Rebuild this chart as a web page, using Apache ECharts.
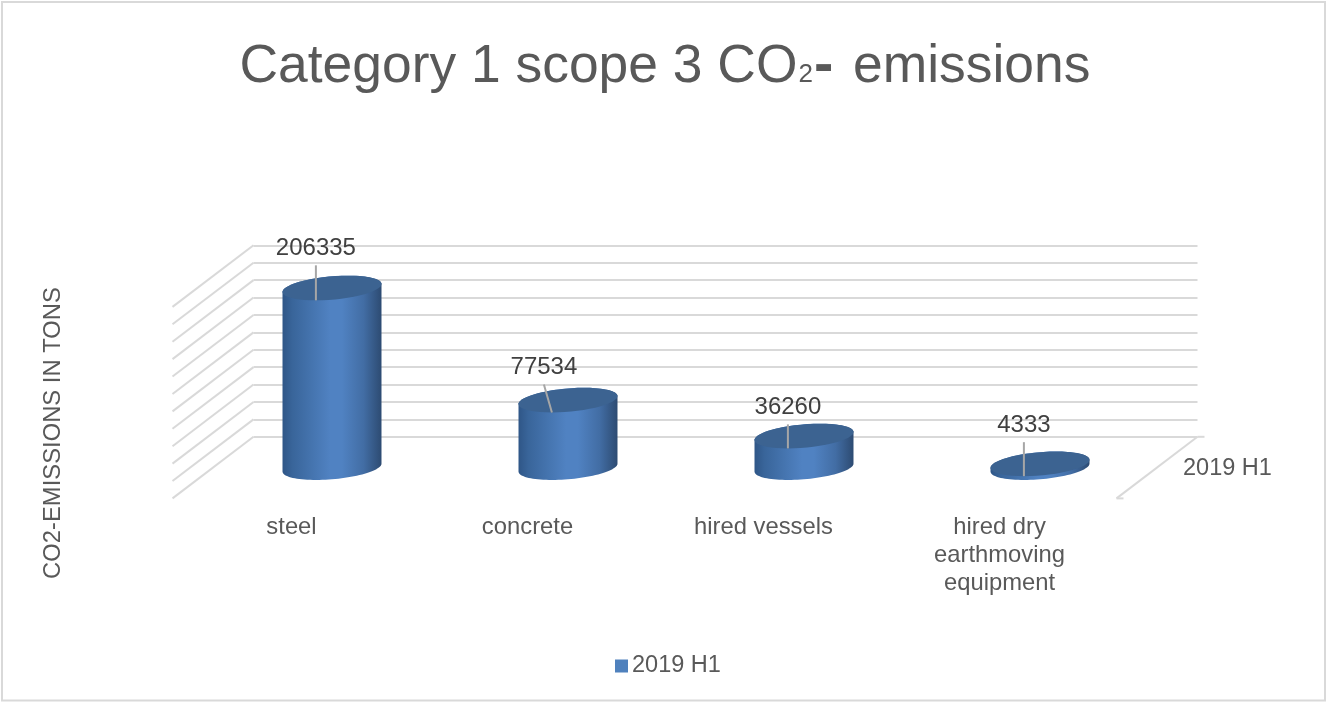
<!DOCTYPE html>
<html>
<head>
<meta charset="utf-8">
<style>
  html, body { margin: 0; padding: 0; background: #fff; }
  #main { width: 1326px; height: 702px; }
</style>
<script src="https://cdn.jsdelivr.net/npm/echarts@6/dist/echarts.min.js"></script>
</head>
<body>
<div id="main"></div>
<script>
var categories = ['steel', 'concrete', 'hired vessels', 'hired dry\nearthmoving\nequipment'];
var seriesName = '2019 H1';
var values = [206335, 77534, 36260, 4333];
var yTicks = [0, 20000, 40000, 60000, 80000, 100000, 120000, 140000, 160000, 180000, 200000, 220000];

var myChart = echarts.init(document.getElementById('main'), null, { renderer: 'canvas' });

var font = '"Liberation Sans", Arial, sans-serif';
var wallColor = '#d9d9d9';

// fake 3d: the floor depth vector, wall front edge is one full depth from the back wall
var depthX = -81;
var depthY = 61.6;
// cylinder sits half way in, ellipse is a sheared circle
var midX = -39.5;
var midY = 30.8;
var radA = 46.8;
var radP = 16.1;
var radQ = 12.35;
var startT = -Math.atan(radP / radA);

// hand placed data labels, like the moved labels in the original
var labelLift = [52, 45, 41, 51];
var labelShift = [0, -8, 0, 0];

function ellipsePoint(cx, cy, t) {
  return [cx + radA * Math.cos(t) - radP * Math.sin(t), cy + radQ * Math.sin(t)];
}

function arc(cx, cy, from, to) {
  var pts = [];
  for (var i = 0; i <= 48; i++) {
    pts.push(ellipsePoint(cx, cy, from + (to - from) * i / 48));
  }
  return pts;
}

function renderWall(params, api) {
  var sys = params.coordSys;
  var y = api.coord([0, api.value(0)])[1];
  var lineStyle = { stroke: wallColor, lineWidth: 2, fill: null };
  var children = [{
    type: 'line',
    shape: { x1: sys.x, y1: y, x2: sys.x + depthX, y2: y + depthY },
    style: lineStyle
  }];
  if (api.value(0) === 0) {
    var right = sys.x + sys.width;
    children.push({
      type: 'line',
      shape: { x1: right, y1: y, x2: right + depthX, y2: y + depthY },
      style: lineStyle
    });
    children.push({ type: 'line', shape: { x1: right, y1: y, x2: right + 7, y2: y }, style: lineStyle });
    children.push({
      type: 'line',
      shape: { x1: right + depthX, y1: y + depthY, x2: right + depthX + 7, y2: y + depthY },
      style: lineStyle
    });
  }
  return { type: 'group', children: children };
}

function renderCylinder(params, api) {
  var i = api.value(0);
  var base = api.coord([i, 0]);
  var top = api.coord([i, api.value(1)]);
  var cx = base[0] + midX;
  var yBase = base[1] + midY;
  var yTop = top[1] + midY;

  var body = arc(cx, yBase, startT, startT + Math.PI).concat(arc(cx, yTop, startT + Math.PI, startT + 2 * Math.PI));
  var r = Math.sqrt(radA * radA + radP * radP);
  var frontX = cx - radP;
  var frontY = yTop + radQ;
  var labelX = frontX + labelShift[i];
  var labelY = frontY - labelLift[i];

  return {
    type: 'group',
    children: [
      {
        type: 'polygon',
        shape: { points: body },
        style: {
          fill: new echarts.graphic.LinearGradient(cx - r, 0, cx + r, 0, [
            { offset: 0, color: '#2f5687' },
            { offset: 0.1, color: '#39659a' },
            { offset: 0.48, color: '#5082c2' },
            { offset: 0.6, color: '#5082c2' },
            { offset: 0.82, color: '#426da4' },
            { offset: 1, color: '#2d4b72' }
          ], true)
        }
      },
      {
        type: 'polygon',
        shape: { points: arc(cx, yTop, 0, Math.PI * 2) },
        style: { fill: '#3c6391' }
      },
      {
        type: 'line',
        shape: { x1: labelX, y1: labelY + 17, x2: frontX, y2: frontY },
        style: { stroke: '#a6a6a6', lineWidth: 2, fill: null }
      },
      {
        type: 'text',
        style: {
          x: labelX,
          y: labelY,
          text: String(api.value(1)),
          align: 'center',
          verticalAlign: 'middle',
          font: '24px ' + font,
          fill: '#404040'
        }
      }
    ]
  };
}

var option = {
  animation: false,
  backgroundColor: '#fff',
  title: {
    text: '{a|Category 1 scope 3 CO}{s|2}{d|-}{a| emissions}',
    left: 234.5,
    top: 33,
    textStyle: {
      fontWeight: 'normal',
      rich: {
        a: { fontFamily: font, fontSize: 53.4, fontWeight: 'normal', color: '#595959' },
        s: { fontFamily: font, fontSize: 26, fontWeight: 'normal', color: '#595959', verticalAlign: 'bottom', padding: [0, 1, 8, 1] },
        d: { fontFamily: font, fontSize: 58, fontWeight: 'bold', color: '#595959', padding: [0, 5, 0, 0] }
      }
    }
  },
  legend: {
    data: [seriesName],
    left: 610,
    top: 649,
    icon: 'rect',
    itemWidth: 13,
    itemHeight: 13,
    itemGap: 4,
    textStyle: { fontFamily: font, fontSize: 23.5, color: '#595959', padding: [0, 0, 0, -1] }
  },
  grid: [
    { left: 253.5, top: 245.3, width: 944, height: 191.5 },
    { left: 173.5, top: 306.9, width: 944, height: 191.5 }
  ],
  xAxis: [
    {
      gridIndex: 0,
      type: 'category',
      data: categories,
      axisLine: { show: false },
      axisTick: { show: false },
      axisLabel: { show: false }
    },
    {
      gridIndex: 1,
      type: 'category',
      data: categories,
      axisLine: { show: false },
      axisTick: { show: false },
      axisLabel: {
        interval: 0,
        margin: 15,
        lineHeight: 28,
        fontFamily: font,
        fontSize: 23.8,
        color: '#595959'
      }
    }
  ],
  yAxis: [
    {
      gridIndex: 0,
      type: 'value',
      min: 0,
      max: 220000,
      interval: 20000,
      axisLine: { show: false },
      axisTick: { show: false },
      axisLabel: { show: false },
      splitLine: { lineStyle: { color: wallColor, width: 2 } }
    },
    {
      gridIndex: 1,
      type: 'value',
      min: 0,
      max: 220000,
      interval: 20000,
      axisLine: { show: false },
      axisTick: { show: false },
      axisLabel: { show: false },
      splitLine: { show: false }
    }
  ],
  series: [
    {
      name: 'wall',
      type: 'custom',
      xAxisIndex: 0,
      yAxisIndex: 0,
      silent: true,
      z: 1,
      clip: false,
      renderItem: renderWall,
      encode: { y: 0 },
      data: yTicks.map(function (t) { return [t]; })
    },
    {
      name: seriesName,
      type: 'custom',
      xAxisIndex: 0,
      yAxisIndex: 0,
      silent: true,
      z: 3,
      clip: false,
      itemStyle: { color: '#4f81bd' },
      renderItem: renderCylinder,
      encode: { x: 0, y: 1 },
      data: values.map(function (v, i) { return [i, v]; })
    }
  ],
  graphic: [
    {
      type: 'rect',
      silent: true,
      z: -1,
      shape: { x: 2, y: 2, width: 1323, height: 698.5 },
      style: { fill: null, stroke: wallColor, lineWidth: 2 }
    },
    {
      type: 'text',
      silent: true,
      x: 53,
      y: 433,
      rotation: Math.PI / 2,
      style: {
        text: 'CO2-EMISSIONS IN TONS',
        align: 'center',
        verticalAlign: 'middle',
        font: '23.8px ' + font,
        fill: '#595959'
      }
    },
    {
      type: 'text',
      silent: true,
      x: 1183,
      y: 469,
      style: {
        text: seriesName,
        align: 'left',
        verticalAlign: 'middle',
        font: '23.5px ' + font,
        fill: '#595959'
      }
    }
  ]
};

myChart.setOption(option);

window.addEventListener('resize', myChart.resize);
</script>
</body>
</html>
